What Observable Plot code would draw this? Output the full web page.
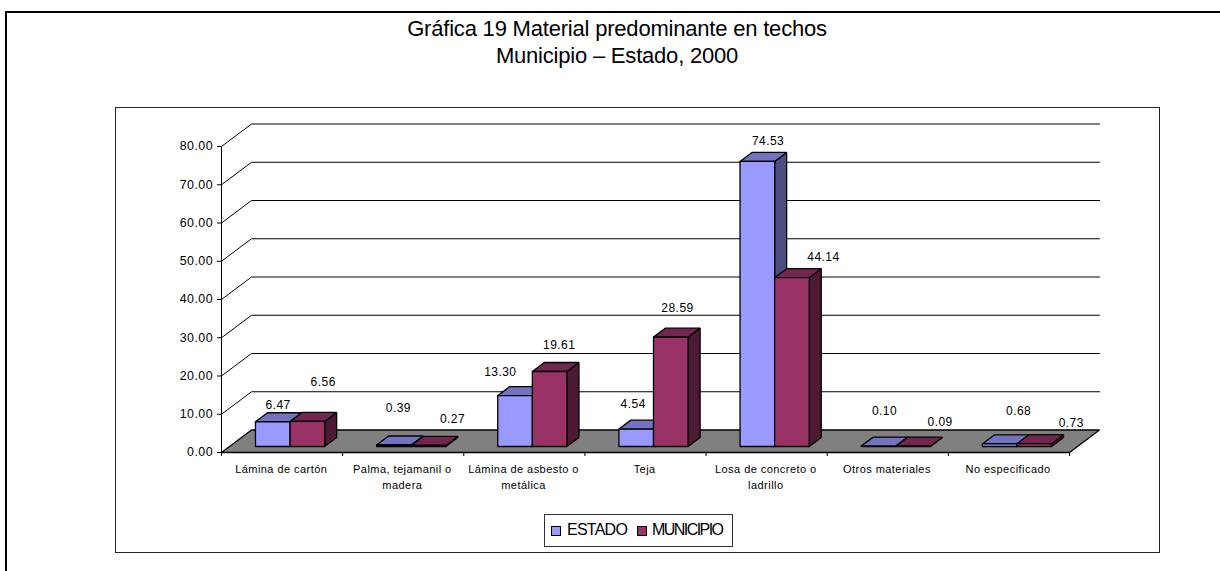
<!DOCTYPE html>
<html><head><meta charset="utf-8">
<script src="https://cdn.jsdelivr.net/npm/d3@7"></script>
<script src="https://cdn.jsdelivr.net/npm/@observablehq/plot@0.6"></script>
<style>
html,body{margin:0;padding:0;background:#fff;font-family:"Liberation Sans",Arial,sans-serif;}
#page{position:relative;width:1220px;height:571px;overflow:hidden;}
#outer{position:absolute;left:5px;top:11px;right:0;bottom:0;border-left:2px solid #000;border-top:2px solid #000;}
#inner{position:absolute;left:115px;top:106.5px;width:1043px;height:444px;border:1px solid #222;border-width:1px 1.5px 1.5px 1px;}
#title{position:absolute;left:6px;width:1222px;top:15px;text-align:center;font-size:22px;line-height:27px;letter-spacing:-.2px;color:#000;}
#chart{position:absolute;left:0;top:0;}
#legend{position:absolute;left:544px;top:514px;width:187px;height:30.5px;border:1px solid #333;border-right-width:1.5px;border-bottom-width:1.5px;background:#fff;font-size:16px;letter-spacing:-.85px;line-height:29px;}
#legend span{position:absolute;top:0;white-space:nowrap;}
#legend i{position:absolute;top:11px;width:8px;height:8px;border:1px solid #000;}
</style></head><body>
<div id="page">
<div id="outer"></div>
<div id="inner"></div>
<div id="chart"></div>
<div id="title">Gráfica 19 Material predominante en techos<br>Municipio – Estado, 2000</div>
<div id="legend"></div>
</div>
<script>
const categories = ["Lámina de cartón","Palma, tejamanil o\nmadera","Lámina de asbesto o\nmetálica","Teja","Losa de concreto o\nladrillo","Otros materiales","No especificado"];
const estado = [6.47,0.39,13.30,4.54,74.53,0.10,0.68];
const municipio = [6.56,0.27,19.61,28.59,44.14,0.09,0.73];
const yTicks = [0,10,20,30,40,50,60,70,80];
const seriesNames = ["ESTADO","MUNICIPIO"];

// Styling of each series' faces
const palette = {
  ESTADO:{front:"#9999FF",top:"#7373BF",side:"#4D4D80"},
  MUNICIPIO:{front:"#993366",top:"#732650",side:"#4D1A33"}
};
// Layout of the oblique projection
const W=1220,H=571,mL=221,mR=121,mT=123.5,mB=119;
const pxX=121.14, pxY=3.825, depthPxX=30, depthPxY=22.5;
const depthX=depthPxX/pxX, depthY=depthPxY/pxY;
const barW=34.6/pxX, d0=8/30, d1=20/30;
// Data-label nudges in pixels, from the top of each bar (reference placement is irregular)
const nudge = {
  ESTADO:[[-6.7,-7.3],[-7.5,-27.5],[-26.7,-14.3],[-15,-16.3],[-1.3,-11.3],[-6,-25.9],[7,-23.7]],
  MUNICIPIO:[[3.8,-30.2],[12,-17],[-2.5,-17],[-5.3,-19.9],[19.5,-11.5],[15,-15],[25,-11.5]]
};

const P=(cat,val,d)=>({x:cat+d*depthX,y:val+d*depthY});
const polys=[];
function face(id,fill,pts){const closed=[...pts,pts[0]];closed.forEach(p=>polys.push({...p,id,fill}));}

const grid=[];
yTicks.slice(1).forEach(v=>{[P(0,v,0),P(0,v,1),P(7,v,1)].forEach(p=>grid.push({...p,v}));});
face("floor","#808080",[P(0,0,0),P(7,0,0),P(7,0,1),P(0,0,1)]);

const labels=[];
categories.forEach((c,i)=>{
  [[estado,"ESTADO",-1],[municipio,"MUNICIPIO",0]].forEach(([vals,name,off])=>{
    const v=vals[i], x0=i+.5+off*barW, x1=x0+barW, col=palette[name], id=name+i;
    face(id+"s",col.side,[P(x1,0,d0),P(x1,0,d1),P(x1,v,d1),P(x1,v,d0)]);
    face(id+"t",col.top,[P(x0,v,d0),P(x1,v,d0),P(x1,v,d1),P(x0,v,d1)]);
    face(id+"f",col.front,[P(x0,0,d0),P(x1,0,d0),P(x1,v,d0),P(x0,v,d0)]);
    const [nx,ny]=nudge[name][i], a=P((x0+x1)/2,v,d1);
    labels.push({x:a.x+nx/pxX,y:a.y-ny/pxY,text:d3.format(".2f")(v)});
  });
});

const chart=Plot.plot({
  width:W,height:H,marginLeft:mL,marginRight:mR,marginTop:mT,marginBottom:mB,
  x:{type:"linear",domain:[0,7+depthX]},
  y:{type:"linear",domain:[0,80+depthY]},
  color:{type:"identity"},
  style:{fontFamily:'"Liberation Sans",Arial,sans-serif',background:"transparent",color:"#000",letterSpacing:".45px",overflow:"visible"},
  marks:[
    Plot.line(grid,{x:"x",y:"y",z:"v",stroke:"#000",strokeWidth:1}),
    Plot.line(polys,{x:"x",y:"y",z:"id",fill:"fill",stroke:"#000",strokeWidth:1.3,strokeLinejoin:"miter"}),
    Plot.ruleX([0],{y1:0,y2:80,stroke:"#000",strokeWidth:1}),
    Plot.axisY({ticks:yTicks,tickFormat:d3.format(".2f"),tickSize:4,tickPadding:4.5,fontSize:12.4,label:null,strokeOpacity:1}),
    Plot.axisX({ticks:d3.range(8),tickFormat:()=>"",tickSize:4,label:null,strokeOpacity:1}),
    Plot.text(categories,{x:(d,i)=>i+.493,y:()=>0,text:d=>d,dy:9,lineAnchor:"top",fontSize:11,lineHeight:1.45,fill:"#000"}),
    Plot.text(labels,{x:"x",y:"y",text:"text",fontSize:12,fill:"#000"})
  ]
});
document.getElementById("chart").append(chart);

const lg=document.getElementById("legend");
[[6,"ESTADO",22,"-.75px"],[92,"MUNICIPIO",107,"-1.55px"]].forEach(([sx,n,tx,ls])=>{
  const i=document.createElement("i");i.style.left=sx+"px";i.style.background=palette[n].front;lg.append(i);
  const s=document.createElement("span");s.style.left=tx+"px";s.style.letterSpacing=ls;s.textContent=n;lg.append(s);
});
</script>
</body></html>
